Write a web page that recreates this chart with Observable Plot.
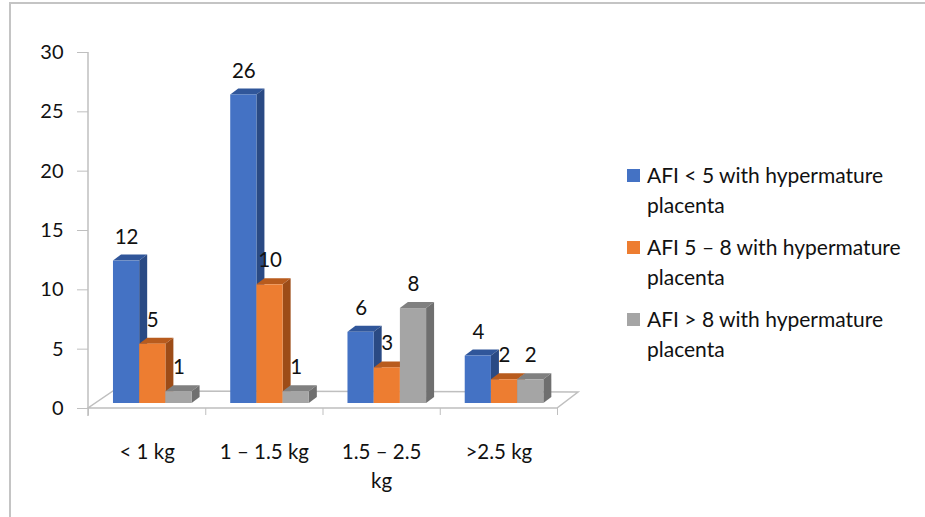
<!DOCTYPE html>
<html>
<head>
<meta charset="utf-8">
<script src="https://cdn.jsdelivr.net/npm/d3@7"></script>
<script src="https://cdn.jsdelivr.net/npm/@observablehq/plot@0.6"></script>
<style>
  body { margin: 0; background: #fff; }
  #chart { position: relative; width: 925px; height: 517px; font-family: Lato, "Open Sans", sans-serif; color: #111; }
  #chart svg { position: absolute; left: 0; top: 0; }
  #border { position: absolute; left: 9px; top: 2px; right: 0; bottom: 0; border-left: 2px solid #c4c4c4; border-top: 2px solid #c4c4c4; pointer-events: none; }
  #legend { position: absolute; left: 627px; top: 160px; font-size: 21px; line-height: 30px; }
  .item { display: flex; align-items: flex-start; margin-bottom: 12px; }
  .swatch { width: 13px; height: 13px; flex: none; margin-top: 9px; margin-right: 7px; }
  .label { width: 290px; }
</style>
</head>
<body>
<div id="chart">
  <div id="border"></div>
</div>
<script>
// Birth-weight groups and the three amniotic fluid index (AFI) series
const categories = ["< 1 kg", "1 – 1.5 kg", "1.5 – 2.5 kg", ">2.5 kg"];
const xTickLabels = ["< 1 kg", "1 – 1.5 kg", "1.5 – 2.5\nkg", ">2.5 kg"];
const seriesNames = [
  "AFI < 5 with hypermature placenta",
  "AFI 5 – 8 with hypermature placenta",
  "AFI > 8 with hypermature placenta"
];
const afiBelow5 = [12, 26, 6, 4];
const afi5to8 = [5, 10, 3, 2];
const afiAbove8 = [1, 1, 8, 2];
const yTicks = [0, 5, 10, 15, 20, 25, 30];

// Face colours: front, top and side of each 3-D column
const seriesColors = ["#4472C4", "#ED7D31", "#A5A5A5"];
const seriesTops = ["#30569A", "#B85B1D", "#808080"];
const seriesSides = ["#2A4A84", "#9D4C17", "#6F6F6F"];

const values = [afiBelow5, afi5to8, afiAbove8];
const rows = categories.flatMap((category, ci) =>
  seriesNames.map((series, si) => ({category, ci, series, si, value: values[si][ci]}))
);

// Column placement inside each category slot (in x-scale units)
const BAR_START = 0.213, BAR_W = 0.2235;
const barX1 = d => d.ci + BAR_START + d.si * BAR_W;
const barX2 = d => barX1(d) + BAR_W;
const barMid = d => barX1(d) + BAR_W / 2;

// Pseudo-3D depth, in pixels
const LIFT = 5;                  // columns stand a little behind the floor's front edge
const DEPTH_X = 8, DEPTH_Y = -6; // column extrusion
const FLOOR_L = [25, -17], FLOOR_R = [21, -16];
const GRID = "#bfbfbf";

// Floor outline and vertical axis line
function floor(index, scales) {
  const g = d3.create("svg:g").attr("fill", "none").attr("stroke", GRID).attr("stroke-width", 1.5);
  const x0 = scales.x(0), x1 = scales.x(categories.length), y0 = scales.y(0);
  g.append("path").attr("d",
    `M${x0},${y0}L${x1},${y0}L${x1 + FLOOR_R[0]},${y0 + FLOOR_R[1]}L${x0 + FLOOR_L[0]},${y0 + FLOOR_L[1]}Z`);
  g.append("path").attr("d", `M${x0},${scales.y(yTicks[yTicks.length - 1])}V${y0 + 8}`);
  return g.node();
}

// Top and side faces of every column
function columnDepth(index, scales) {
  const g = d3.create("svg:g");
  for (const d of rows) {
    const xa = scales.x(barX1(d)), xb = scales.x(barX2(d));
    const yb = scales.y(0) - LIFT, yt = scales.y(d.value) - LIFT;
    g.append("path").attr("fill", seriesTops[d.si])
      .attr("d", `M${xa},${yt}L${xa + DEPTH_X},${yt + DEPTH_Y}L${xb + DEPTH_X},${yt + DEPTH_Y}L${xb},${yt}Z`);
    g.append("path").attr("fill", seriesSides[d.si])
      .attr("d", `M${xb},${yt}L${xb + DEPTH_X},${yt + DEPTH_Y}L${xb + DEPTH_X},${yb + DEPTH_Y}L${xb},${yb}Z`);
  }
  return g.node();
}

const chart = Plot.plot({
  width: 925,
  height: 517,
  marginLeft: 88,
  marginRight: 368,
  marginTop: 52,
  marginBottom: 109,
  style: {fontFamily: "Lato, 'Open Sans', sans-serif", fontSize: "20px", color: "#111", background: "transparent"},
  x: {type: "linear", domain: [0, categories.length]},
  y: {domain: [0, 30], label: null},
  color: {domain: seriesNames, range: seriesColors},
  marks: [
    floor,
    Plot.axisY(yTicks, {tickSize: 11, tickPadding: 14, stroke: GRID, fill: "#111", fontSize: 20, label: null}),
    Plot.axisX(d3.range(categories.length + 1), {tickSize: 7, stroke: GRID, tickFormat: () => "", label: null}),
    Plot.axisX(categories.map((_, i) => i + 0.5), {
      tickSize: 0, tickPadding: 29, fontSize: 20.5, lineHeight: 1.45, fill: "#111",
      tickFormat: v => xTickLabels[Math.floor(v)], label: null
    }),
    columnDepth,
    Plot.rect(rows, {x1: barX1, x2: barX2, y1: 0, y2: "value", fill: "series", dy: -LIFT}),
    Plot.text(rows, {x: barMid, y: "value", text: "value", dy: -(LIFT + 24), fontSize: 20.5, fill: "#111"})
  ]
});

const root = document.getElementById("chart");
root.insertBefore(chart, root.firstChild);

// Legend to the right of the plot
const legend = document.createElement("div");
legend.id = "legend";
seriesNames.forEach((name, i) => {
  const item = document.createElement("div");
  item.className = "item";
  const sw = document.createElement("span");
  sw.className = "swatch";
  sw.style.background = seriesColors[i];
  const label = document.createElement("span");
  label.className = "label";
  label.textContent = name;
  item.append(sw, label);
  legend.append(item);
});
root.append(legend);
</script>
</body>
</html>
